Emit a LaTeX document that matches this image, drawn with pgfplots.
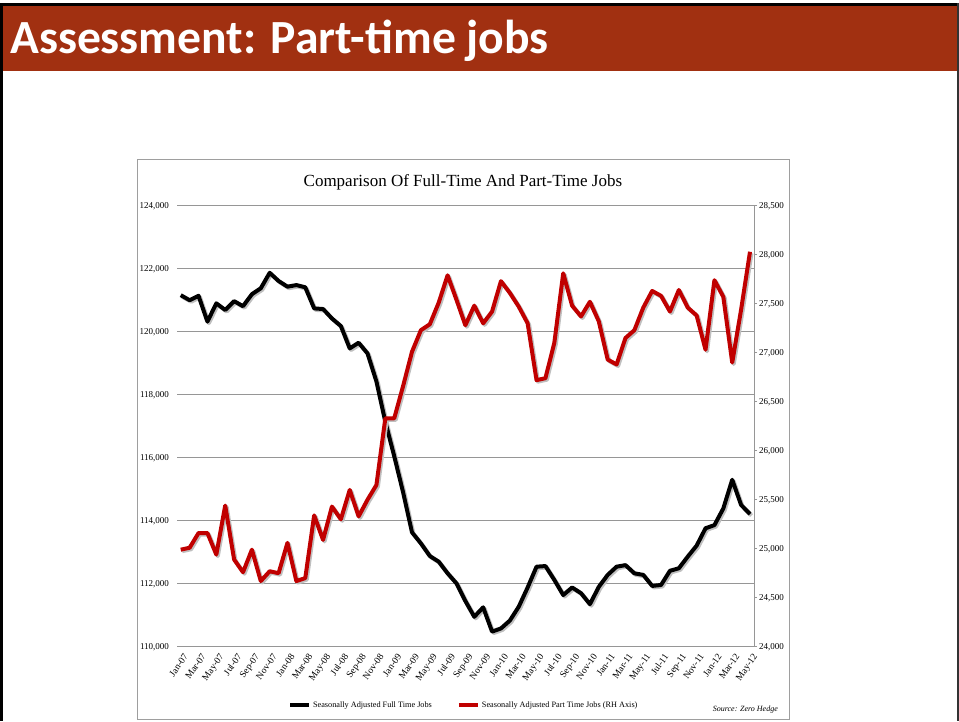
\documentclass[border=0pt]{standalone}
\usepackage{fontspec}
\setmainfont{Liberation Serif}
\newfontfamily\headfont{Carlito}
\usepackage{pgfplots}
\usepackage{pgfplotstable}
\pgfplotsset{compat=1.18}

\definecolor{hdr}{RGB}{161,48,17}
\definecolor{ptred}{RGB}{192,0,0}
\definecolor{gridgray}{RGB}{150,150,150}

% month index, full-time jobs, part-time jobs (thousands)
\pgfplotstableread{
m ft pt
0 121160 24990
1 121000 25010
2 121140 25160
3 120320 25160
4 120900 24940
5 120690 25440
6 120970 24890
7 120810 24760
8 121190 24990
9 121380 24670
10 121870 24770
11 121610 24750
12 121430 25060
13 121480 24670
14 121410 24700
15 120740 25340
16 120720 25090
17 120420 25430
18 120180 25300
19 119470 25600
20 119650 25330
21 119310 25500
22 118420 25650
23 117140 26330
24 116050 26330
25 114900 26660
26 113630 27010
27 113280 27230
28 112880 27290
29 112700 27510
30 112330 27790
31 112010 27540
32 111450 27280
33 110950 27480
34 111250 27300
35 110480 27420
36 110580 27730
37 110830 27610
38 111270 27470
39 111880 27300
40 112540 26720
41 112560 26740
42 112120 27100
43 111640 27810
44 111880 27480
45 111700 27370
46 111350 27520
47 111900 27320
48 112280 26930
49 112540 26880
50 112590 27150
51 112330 27230
52 112280 27460
53 111930 27630
54 111960 27580
55 112410 27420
56 112490 27640
57 112860 27460
58 113210 27380
59 113760 27030
60 113860 27740
61 114390 27570
62 115300 26900
63 114500 27440
64 114210 28030
}\jobs

\begin{document}
\begin{tikzpicture}
\path[use as bounding box] (0pt,0pt) rectangle (959pt,-721pt);
\fill[white] (0pt,0pt) rectangle (959pt,-721pt);
% slide header
\fill[hdr] (3.3pt,-6pt) rectangle (957.3pt,-70.7pt);
\draw[black, line width=2.7pt] (0pt,-4.7pt) -- (959pt,-4.7pt);
\draw[black, line width=3.3pt] (1.65pt,-3.3pt) -- (1.65pt,-721pt);
\draw[black!80, line width=1.5pt] (958.2pt,-3.3pt) -- (958.2pt,-721pt);
\node[anchor=base west, text=white, inner sep=0,
      font=\headfont\bfseries\fontsize{47.6}{50}\selectfont] at (10pt,-53.3pt) {Assessment: Part-time jobs};
% chart frame and title
\draw[black!38, line width=1pt] (137.3pt,-159.7pt) rectangle (789.7pt,-719pt);
\node[anchor=base, inner sep=0, font=\fontsize{17}{20}\selectfont] at (462.9pt,-186pt)
  {Comparison Of Full-Time And Part-Time Jobs};
\node[anchor=base east, inner sep=0, font=\itshape\fontsize{8}{9}\selectfont] at (778pt,-711pt)
  {Source: Zero Hedge};

\begin{axis}[
  at={(177pt,-646.7pt)}, anchor=south west,
  scale only axis, width=577pt, height=441pt,
  xmin=-0.42, xmax=64.45,
  ymin=110000, ymax=124000,
  ytick={110000,112000,114000,116000,118000,120000,122000,124000},
  yticklabels={{110,000},{112,000},{114,000},{116,000},{118,000},{120,000},{122,000},{124,000}},
  xtick={0,2,...,64},
  xticklabels={Jan-07,Mar-07,May-07,Jul-07,Sep-07,Nov-07,
    Jan-08,Mar-08,May-08,Jul-08,Sep-08,Nov-08,
    Jan-09,Mar-09,May-09,Jul-09,Sep-09,Nov-09,
    Jan-10,Mar-10,May-10,Jul-10,Sep-10,Nov-10,
    Jan-11,Mar-11,May-11,Jul-11,Sep-11,Nov-11,
    Jan-12,Mar-12,May-12},
  major tick length=0pt,
  axis line style={draw=none},
  ymajorgrids, grid style={gridgray, line width=1.2pt},
  scaled y ticks=false,
  tick label style={font=\fontsize{9}{10}\selectfont},
  yticklabel style={xshift=-4.5pt},
  xticklabel style={rotate=55, anchor=north east, yshift=-2pt,
    font=\fontsize{9.5}{10}\selectfont},
  legend columns=2,
  legend style={at={(0.497,-0.132)}, anchor=center, draw=none, fill=none,
    font=\fontsize{8.25}{9}\selectfont,
    /tikz/every even column/.append style={column sep=23pt}},
  legend image code/.code={\draw[#1, line width=4pt] (0pt,0pt) -- (19pt,0pt);},
  clip=false,
]
\addplot[black!25, line width=4pt, line join=round, forget plot,
  xshift=1.5pt, yshift=-1.5pt] table[x=m,y=ft]{\jobs};
\addplot[black, line width=4pt, line join=round] table[x=m,y=ft]{\jobs};
\addlegendentry{Seasonally Adjusted Full Time Jobs}
\addlegendimage{ptred, line width=4pt}
\addlegendentry{Seasonally Adjusted Part Time Jobs (RH Axis)}
\end{axis}

\begin{axis}[
  at={(177pt,-646.7pt)}, anchor=south west,
  scale only axis, width=577pt, height=441pt,
  xmin=-0.42, xmax=64.45,
  ymin=24000, ymax=28500,
  ytick={24000,24500,25000,25500,26000,26500,27000,27500,28000,28500},
  yticklabels={{24,000},{24,500},{25,000},{25,500},{26,000},{26,500},{27,000},{27,500},{28,000},{28,500}},
  axis x line=none,
  axis y line*=right,
  axis line style={gridgray, line width=1pt},
  ytick style={gridgray, line width=0.8pt},
  major tick length=3pt, tick align=outside,
  scaled y ticks=false,
  tick label style={font=\fontsize{9}{10}\selectfont},
  yticklabel style={xshift=-1.5pt},
  clip=false,
]
\addplot[black!25, line width=4pt, line join=round,
  xshift=1.5pt, yshift=-1.5pt] table[x=m,y=pt]{\jobs};
\addplot[ptred, line width=4pt, line join=round] table[x=m,y=pt]{\jobs};
\end{axis}
\end{tikzpicture}
\end{document}
